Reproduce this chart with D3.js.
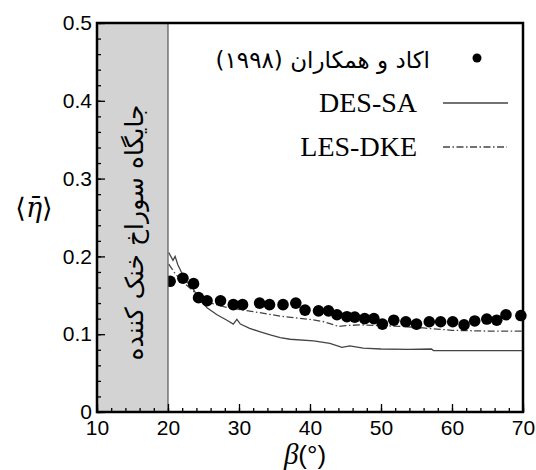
<!DOCTYPE html>
<html>
<head>
<meta charset="utf-8">
<script src="https://cdn.jsdelivr.net/npm/d3@7"></script>
<style>
  body { margin: 0; background: #fff; }
  svg { display: block; }
</style>
</head>
<body>
<svg id="chart" width="536" height="470"></svg>
<script>
// experiment points (Okad et al. 1998)
var expBeta = [20.3, 22.1, 23.6, 24.3, 25.5, 27.4, 29.2, 30.5, 32.9, 34.3, 36.2, 38.0, 39.3, 41.2, 42.6, 43.8, 45.2, 46.3, 47.7, 49.0, 50.2, 51.8, 53.5, 55.0, 56.8, 58.4, 60.1, 61.7, 63.2, 64.9, 66.3, 67.6, 69.7]
var expEta = [0.168, 0.172, 0.165, 0.147, 0.143, 0.143, 0.138, 0.138, 0.140, 0.138, 0.138, 0.140, 0.131, 0.130, 0.130, 0.125, 0.1225, 0.122, 0.120, 0.120, 0.113, 0.118, 0.116, 0.113, 0.116, 0.116, 0.116, 0.112, 0.117, 0.1195, 0.118, 0.125, 0.124]

// DES-SA
var desBeta = [20.1, 20.7, 21.0, 21.4, 22.4, 23.5, 24.5, 25.5, 26.9, 28.3, 29.2, 29.7, 30.2, 31.5, 33.0, 34.4, 35.8, 37.2, 40.5, 42.8, 44.5, 45.6, 47.5, 50.0, 53.8, 57.1, 57.4, 70.0]
var desEta = [0.205, 0.195, 0.200, 0.189, 0.170, 0.159, 0.144, 0.134, 0.125, 0.118, 0.113, 0.119, 0.113, 0.1075, 0.103, 0.099, 0.0955, 0.0935, 0.0913, 0.0883, 0.083, 0.085, 0.082, 0.081, 0.0806, 0.081, 0.079, 0.079]

// LES-DKE
var lesBeta = [20.1, 21.0, 22.0, 23.0, 24.0, 25.0, 26.0, 28.0, 30.0, 32.0, 34.0, 36.0, 38.0, 40.0, 42.0, 44.0, 45.0, 47.0, 50.0, 53.0, 56.0, 60.0, 65.0, 70.0]
var lesEta = [0.190, 0.178, 0.168, 0.160, 0.152, 0.145, 0.140, 0.135, 0.132, 0.129, 0.126, 0.123, 0.121, 0.119, 0.116, 0.110, 0.111, 0.112, 0.111, 0.110, 0.108, 0.105, 0.104, 0.104]

var xTicks = [10, 20, 30, 40, 50, 60, 70]
var yTicks = [0, 0.1, 0.2, 0.3, 0.4, 0.5]
var yTickLabels = ["0", "0.1", "0.2", "0.3", "0.4", "0.5"]

var holeRange = [10, 20]
var holeLabel = "جایگاه سوراخ خنک کننده"
var legendLabels = ["اکاد و همکاران (۱۹۹۸)", "DES-SA", "LES-DKE"]

var svg = d3.select("#chart")
var plotL = 97, plotR = 523, plotT = 23, plotB = 412

var x = d3.scaleLinear().domain([10, 70]).range([plotL, plotR])
var y = d3.scaleLinear().domain([0, 0.5]).range([plotB, plotT])

// curves
function series(bs, es) {
    return bs.map(function (b, i) { return [b, es[i]] })
}
var line = d3.line().x(function (d) { return x(d[0]) }).y(function (d) { return y(d[1]) })

svg.append("path")
    .datum(series(desBeta, desEta))
    .attr("d", line)
    .attr("fill", "none").attr("stroke", "#444").attr("stroke-width", 1.3)

svg.append("path")
    .datum(series(lesBeta, lesEta))
    .attr("d", line)
    .attr("fill", "none").attr("stroke", "#444").attr("stroke-width", 1.3)
    .attr("stroke-dasharray", "7,2.5,1.5,2.5")

svg.append("g").selectAll("circle")
    .data(series(expBeta, expEta))
    .enter()
    .append("circle")
    .attr("cx", function (d) { return x(d[0]) })
    .attr("cy", function (d) { return y(d[1]) })
    .attr("r", 5.8)
    .attr("fill", "#000")

// gray band for the hole, drawn over the data
svg.append("rect")
    .attr("x", x(holeRange[0]))
    .attr("y", plotT)
    .attr("width", x(holeRange[1]) - x(holeRange[0]))
    .attr("height", plotB - plotT)
    .attr("fill", "#d3d3d3")
svg.append("line")
    .attr("x1", x(holeRange[1])).attr("x2", x(holeRange[1]))
    .attr("y1", plotT).attr("y2", plotB)
    .attr("stroke", "#555").attr("stroke-width", 1.2)

svg.append("text")
    .attr("transform", "translate(" + ((x(holeRange[0]) + x(holeRange[1])) / 2 + 10) + "," + ((plotT + plotB) / 2 + 15) + ") rotate(-90)")
    .attr("text-anchor", "middle")
    .attr("direction", "rtl")
    .style("font-family", "'DejaVu Sans'")
    .style("font-size", "25px")
    .text(holeLabel)

// axes, ticks point inward
var xAxis = d3.axisBottom(x).tickValues(d3.range(10, 71, 2))
    .tickSize(-4).tickFormat("")
var xAxisMajor = d3.axisBottom(x).tickValues(xTicks).tickSize(-8).tickPadding(8)
    .tickFormat(d3.format("d"))
var yAxis = d3.axisLeft(y).tickValues(d3.range(0, 0.501, 0.02))
    .tickSize(-4).tickFormat("")
var yAxisMajor = d3.axisLeft(y).tickValues(yTicks).tickSize(-8).tickPadding(5)
    .tickFormat(function (d, i) { return yTickLabels[i] })

function styleAxis(g) {
    g.select(".domain").remove()
    g.selectAll(".tick line").attr("stroke", "#000").attr("stroke-width", 1.3)
    g.selectAll(".tick text")
        .style("font-family", "'Liberation Sans', Arial, sans-serif")
        .style("font-size", "21px")
        .attr("fill", "#000")
}

svg.append("g").attr("transform", "translate(0," + plotB + ")").call(xAxis).call(styleAxis)
svg.append("g").attr("transform", "translate(0," + plotB + ")").call(xAxisMajor).call(styleAxis)
svg.append("g").attr("transform", "translate(" + plotL + ",0)").call(yAxis).call(styleAxis)
svg.append("g").attr("transform", "translate(" + plotL + ",0)").call(yAxisMajor).call(styleAxis)

// frame
svg.append("rect")
    .attr("x", plotL).attr("y", plotT)
    .attr("width", plotR - plotL).attr("height", plotB - plotT)
    .attr("fill", "none").attr("stroke", "#000").attr("stroke-width", 2.5)

// legend
svg.append("circle").attr("cx", 477).attr("cy", 58).attr("r", 4.5).attr("fill", "#000")
svg.append("text")
    .attr("x", 430).attr("y", 68)
    .attr("direction", "rtl")
    .attr("text-anchor", "start")
    .style("font-family", "'DejaVu Sans'")
    .style("font-size", "23px")
    .text(legendLabels[0])

svg.append("text")
    .attr("x", 417).attr("y", 112)
    .attr("text-anchor", "end")
    .style("font-family", "'Liberation Serif', 'Times New Roman', serif")
    .style("font-size", "28px")
    .text(legendLabels[1])
svg.append("line")
    .attr("x1", 443).attr("x2", 508).attr("y1", 103).attr("y2", 103)
    .attr("stroke", "#444").attr("stroke-width", 1.3)

svg.append("text")
    .attr("x", 417).attr("y", 156)
    .attr("text-anchor", "end")
    .style("font-family", "'Liberation Serif', 'Times New Roman', serif")
    .style("font-size", "28px")
    .text(legendLabels[2])
svg.append("line")
    .attr("x1", 443).attr("x2", 507).attr("y1", 147).attr("y2", 147)
    .attr("stroke", "#444").attr("stroke-width", 1.3)
    .attr("stroke-dasharray", "7,2.5,1.5,2.5")

// axis titles
var yTitle = svg.append("text")
    .attr("x", 34).attr("y", 217)
    .attr("text-anchor", "middle")
    .style("font-family", "'DejaVu Serif', serif")
    .style("font-size", "27px")
yTitle.append("tspan").text("⟨")
yTitle.append("tspan").style("font-style", "italic").text("η\u0304")
yTitle.append("tspan").text("⟩")

var xTitle = svg.append("text")
    .attr("x", 305).attr("y", 464)
    .attr("text-anchor", "middle")
    .style("font-size", "29px")
xTitle.append("tspan")
    .style("font-family", "'Liberation Serif', serif")
    .style("font-style", "italic")
    .text("β")
xTitle.append("tspan")
    .style("font-family", "'Liberation Sans', Arial, sans-serif")
    .style("font-size", "26px")
    .text("(°)")
</script>
</body>
</html>
